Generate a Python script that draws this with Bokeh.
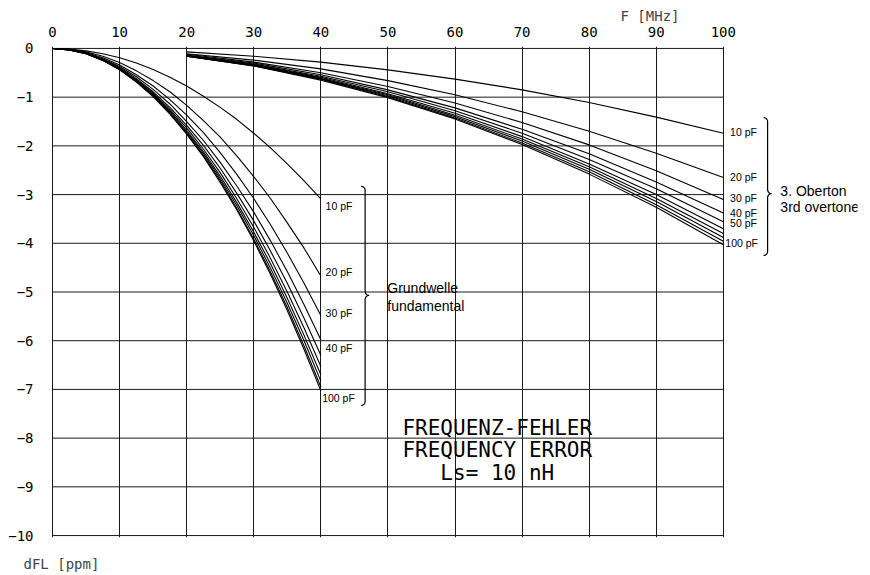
import numpy as np
from bokeh.plotting import figure
from bokeh.models import Label, FixedTicker, Title, LinearAxis
from bokeh.embed import file_html
from bokeh.resources import INLINE

# ---------------- data ----------------
fund_freq = [0, 2.5, 5, 7.5, 10, 12.5, 15, 17.5, 20, 22.5, 25, 27.5, 30, 32.5, 35, 37.5, 40]
fund_10pF = [0, -0.01, -0.05, -0.11, -0.19, -0.30, -0.43, -0.59, -0.77, -0.98, -1.21, -1.46, -1.74, -2.04, -2.37, -2.72, -3.09]
fund_20pF = [0, -0.02, -0.07, -0.16, -0.29, -0.46, -0.66, -0.89, -1.17, -1.48, -1.82, -2.21, -2.63, -3.08, -3.58, -4.10, -4.67]
fund_30pF = [0, -0.02, -0.09, -0.19, -0.34, -0.54, -0.77, -1.05, -1.37, -1.73, -2.14, -2.59, -3.08, -3.62, -4.20, -4.82, -5.48]
fund_40pF = [0, -0.02, -0.09, -0.21, -0.37, -0.58, -0.84, -1.14, -1.50, -1.89, -2.34, -2.83, -3.36, -3.95, -4.58, -5.26, -5.98]
fund_50pF = [0, -0.02, -0.10, -0.22, -0.39, -0.62, -0.89, -1.21, -1.58, -1.99, -2.46, -2.98, -3.54, -4.16, -4.82, -5.54, -6.30]
fund_60pF = [0, -0.03, -0.10, -0.23, -0.41, -0.64, -0.92, -1.25, -1.63, -2.07, -2.55, -3.09, -3.67, -4.31, -5.00, -5.74, -6.53]
fund_70pF = [0, -0.03, -0.10, -0.24, -0.42, -0.65, -0.94, -1.28, -1.68, -2.12, -2.62, -3.17, -3.77, -4.42, -5.13, -5.89, -6.70]
fund_80pF = [0, -0.03, -0.11, -0.24, -0.43, -0.67, -0.96, -1.31, -1.71, -2.16, -2.67, -3.23, -3.84, -4.51, -5.23, -6.00, -6.83]
fund_90pF = [0, -0.03, -0.11, -0.24, -0.43, -0.68, -0.98, -1.33, -1.74, -2.20, -2.71, -3.29, -3.91, -4.59, -5.32, -6.11, -6.95]
fund_100pF = [0, -0.03, -0.11, -0.25, -0.44, -0.69, -0.99, -1.35, -1.76, -2.22, -2.75, -3.32, -3.95, -4.64, -5.38, -6.18, -7.03]

ot_freq = [20, 30, 40, 50, 60, 70, 80, 90, 100]
ot_10pF = [-0.07, -0.16, -0.28, -0.44, -0.63, -0.85, -1.11, -1.41, -1.74]
ot_20pF = [-0.11, -0.24, -0.42, -0.66, -0.95, -1.30, -1.70, -2.15, -2.65]
ot_30pF = [-0.12, -0.28, -0.50, -0.78, -1.12, -1.52, -1.98, -2.51, -3.10]
ot_40pF = [-0.14, -0.30, -0.54, -0.85, -1.22, -1.66, -2.16, -2.74, -3.38]
ot_50pF = [-0.14, -0.32, -0.57, -0.89, -1.28, -1.74, -2.28, -2.88, -3.56]
ot_60pF = [-0.15, -0.33, -0.59, -0.93, -1.33, -1.81, -2.37, -3.00, -3.70]
ot_70pF = [-0.15, -0.34, -0.61, -0.95, -1.37, -1.86, -2.43, -3.08, -3.80]
ot_80pF = [-0.16, -0.35, -0.62, -0.97, -1.40, -1.90, -2.48, -3.14, -3.88]
ot_90pF = [-0.16, -0.36, -0.63, -0.99, -1.43, -1.94, -2.53, -3.21, -3.96]
ot_100pF = [-0.16, -0.36, -0.65, -1.01, -1.45, -1.97, -2.58, -3.26, -4.03]

x_ticks = [0, 10, 20, 30, 40, 50, 60, 70, 80, 90, 100]
x_tick_labels = ["0", "10", "20", "30", "40", "50", "60", "70", "80", "90", "100"]
y_ticks = [0, -1, -2, -3, -4, -5, -6, -7, -8, -9, -10]
y_tick_labels = ["0", "\u22121", "\u22122", "\u22123", "\u22124", "\u22125",
                 "\u22126", "\u22127", "\u22128", "\u22129", "\u221210"]

fund_series = [fund_10pF, fund_20pF, fund_30pF, fund_40pF, fund_50pF,
               fund_60pF, fund_70pF, fund_80pF, fund_90pF, fund_100pF]
ot_series = [ot_10pF, ot_20pF, ot_30pF, ot_40pF, ot_50pF,
             ot_60pF, ot_70pF, ot_80pF, ot_90pF, ot_100pF]

# ---------------- figure ----------------
X_MIN, X_MAX = -0.3, 120
Y_MIN, Y_MAX = -10.04, 0.04
mono = "DejaVu Sans Mono"

p = figure(width=870, height=575, x_range=(X_MIN, X_MAX), y_range=(Y_MIN, Y_MAX),
           output_backend="svg", toolbar_location=None, x_axis_location="above",
           min_border_left=50, min_border_right=13, min_border_top=46,
           min_border_bottom=38, title="F [MHz]")
p.outline_line_color = None
p.background_fill_color = "white"
p.border_fill_color = "white"

p.title.align = "left"
p.title.offset = 570
p.title.text_font = mono
p.title.text_font_size = "14px"
p.title.text_font_style = "normal"
p.title.standoff = 0

# invisible spacer axis below the field, then the y-unit caption
spacer = LinearAxis(ticker=FixedTicker(ticks=[50]), major_label_overrides={50: ""},
                    axis_line_color=None, major_tick_line_color=None,
                    minor_tick_line_color=None, major_tick_in=0, major_tick_out=16,
                    minor_tick_out=0, major_label_standoff=0,
                    major_label_text_font_size="1px")
p.add_layout(spacer, "below")
p.add_layout(Title(text="dFL [ppm]", align="left", offset=-27, text_font=mono,
                   text_font_size="14px", text_font_style="normal", standoff=0),
             "below")

for ax, ticks, labels, standoff in ((p.xaxis[0], x_ticks, x_tick_labels, 4),
                                    (p.yaxis[0], y_ticks, y_tick_labels, 11)):
    ax.ticker = FixedTicker(ticks=ticks)
    ax.major_label_overrides = {t: l for t, l in zip(ticks, labels)}
    ax.axis_line_color = None
    ax.major_tick_line_color = None
    ax.minor_tick_line_color = None
    ax.major_label_text_font = mono
    ax.major_label_text_font_size = "14px"
    ax.major_label_text_color = "black"
    ax.major_label_standoff = standoff

p.xgrid.ticker = FixedTicker(ticks=x_ticks)
p.xgrid.grid_line_color = "#1a1a1a"
p.xgrid.grid_line_width = 1
p.ygrid.visible = False
# horizontal grid lines only across the 0..100 MHz field
p.segment(x0=[x_ticks[0]] * len(y_ticks), x1=[x_ticks[-1]] * len(y_ticks),
          y0=y_ticks, y1=y_ticks, line_color="#1a1a1a", line_width=1)

for ys in fund_series:
    p.line(fund_freq, ys, line_color="black", line_width=1.1)
for ys in ot_series:
    p.line(ot_freq, ys, line_color="black", line_width=1.1)

# ---------------- braces ----------------
PX_X = 807 / (X_MAX - X_MIN)   # pixels per MHz
PX_Y = 491 / (Y_MAX - Y_MIN)   # pixels per ppm


def brace(xc, ytop, ybot, ymid, r=4.0, n=8):
    """curly brace '}' : xc, y in data; r in pixels"""
    pts = []

    def arc(cx, cy, a0, a1):
        for a in np.linspace(np.radians(a0), np.radians(a1), n):
            pts.append((cx + r * np.cos(a), cy + r * np.sin(a)))
    X = xc * PX_X
    T = -ytop * PX_Y
    B = -ybot * PX_Y
    M = -ymid * PX_Y
    arc(X - r, T + r, -90, 0)
    arc(X + r, M - r, 180, 90)
    arc(X + r, M + r, 270, 180)
    arc(X - r, B - r, 0, 90)
    xs = [px / PX_X for px, _ in pts]
    ys = [-py / PX_Y for _, py in pts]
    return xs, ys


bx, by = brace(46.6, -2.83, -7.33, -5.07)
p.line(bx, by, line_color="black", line_width=1.2)
bx, by = brace(106.6, -1.42, -4.25, -2.98)
p.line(bx, by, line_color="black", line_width=1.2)

# ---------------- labels ----------------
sans = "Liberation Sans"


def lab(x, y, text, font=sans, size="10.5px", align="left"):
    p.add_layout(Label(x=x, y=y, text=text, text_font=font, text_font_size=size,
                       text_align=align, text_baseline="middle", text_color="black"))


fund_label_texts = ["10 pF", "20 pF", "30 pF", "40 pF", "100 pF"]
fund_label_pos = [(40.7, -3.24), (40.7, -4.58), (40.7, -5.44), (40.7, -6.14), (40.2, -7.17)]
for t, (x, y) in zip(fund_label_texts, fund_label_pos):
    lab(x, y, t)

ot_label_texts = ["10 pF", "20 pF", "30 pF", "40 pF", "50 pF", "100 pF"]
ot_label_pos = [(101.0, -1.72), (101.0, -2.63), (101.0, -3.08), (101.0, -3.37),
                (101.0, -3.59), (100.3, -4.00)]
for t, (x, y) in zip(ot_label_texts, ot_label_pos):
    lab(x, y, t)

lab(49.9, -4.91, "Grundwelle", size="14px")
lab(49.9, -5.28, "fundamental", size="14px")
lab(108.5, -2.92, "3. Oberton", size="14px")
lab(108.5, -3.26, "3rd overtone", size="14px")

lab(66.3, -7.80, "FREQUENZ-FEHLER", font=mono, size="21px", align="center")
lab(66.3, -8.25, "FREQUENCY ERROR", font=mono, size="21px", align="center")
lab(66.3, -8.71, "Ls= 10 nH", font=mono, size="21px", align="center")

open("out.html", "w").write(file_html(p, INLINE))
